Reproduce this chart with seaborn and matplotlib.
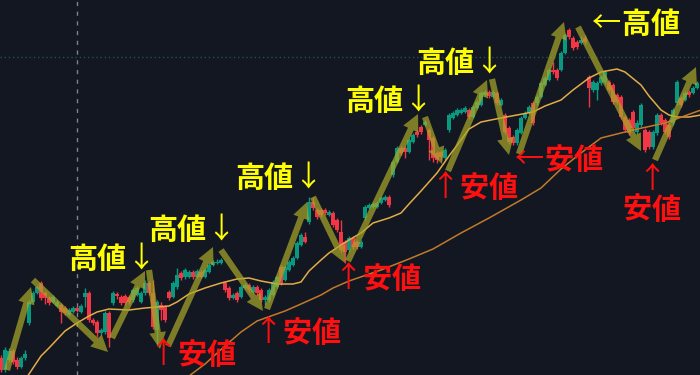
import numpy as np
import pandas as pd
import matplotlib
matplotlib.use("Agg")
import matplotlib.pyplot as plt
import seaborn as sns

# ---- candle data (price units) ----
opens = [17, 5, 15, 24, 15, 8, 17, 52, 73, 82,
         92, 82, 77, 73, 69, 70, 67, 60, 63, 67,
         63, 78, 82, 55, 53, 42, 43, 62, 72, 81,
         78, 79, 78, 75, 80, 73, 82, 92, 82, 45,
         70, 68, 83, 78, 88, 102, 98, 98, 103, 98,
         103, 98, 103, 110, 112, 112, 92, 87, 77, 82,
         78, 87, 90, 83, 88, 85, 75, 75, 80, 88,
         108, 95, 105, 110, 117, 130, 138, 153, 173, 165,
         165, 165, 160, 162, 155, 143, 133, 125, 137, 133,
         128, 157, 167, 168, 168, 172, 175, 178, 200, 213,
         227, 227, 223, 233, 243, 248, 250, 245, 237, 222,
         223, 217, 245, 257, 260, 262, 263, 265, 258, 267,
         270, 280, 283, 278, 282, 270, 260, 247, 238, 232,
         242, 257, 262, 272, 272, 278, 290, 295, 305, 305,
         305, 322, 345, 337, 333, 332, 337, 298, 285, 285,
         292, 293, 293, 290, 280, 278, 258, 255, 263, 243,
         250, 245, 243, 228, 242, 260, 255, 250, 252, 272,
         277, 275, 283, 282, 287]
closes = [5, 25, 24, 13, 8, 17, 21, 73, 82, 88,
          77, 77, 72, 78, 73, 63, 62, 65, 67, 64,
          69, 82, 55, 52, 42, 45, 62, 37, 82, 79,
          72, 72, 73, 85, 87, 82, 92, 82, 48, 73,
          65, 55, 77, 92, 100, 97, 105, 103, 98, 104,
          98, 105, 110, 113, 113, 115, 85, 77, 80, 75,
          88, 90, 85, 88, 82, 75, 78, 85, 93, 98,
          92, 108, 113, 117, 132, 140, 133, 173, 167, 158,
          160, 162, 163, 150, 145, 125, 123, 137, 128, 128,
          133, 168, 170, 171, 172, 177, 178, 170, 213, 227,
          222, 223, 235, 240, 240, 243, 253, 235, 217, 215,
          218, 225, 260, 262, 265, 265, 267, 258, 268, 273,
          282, 283, 279, 283, 272, 275, 243, 233, 232, 245,
          257, 262, 268, 252, 278, 292, 297, 305, 303, 297,
          322, 340, 338, 327, 328, 335, 333, 287, 293, 292,
          298, 303, 285, 273, 273, 258, 245, 242, 247, 252,
          270, 225, 228, 243, 260, 252, 243, 238, 265, 293,
          270, 282, 280, 287, 292]
highs = [20, 28, 27, 26, 18, 19, 25, 75, 84, 90,
         94, 84, 79, 80, 75, 72, 69, 67, 69, 69,
         71, 87, 84, 57, 55, 47, 64, 64, 84, 83,
         80, 81, 80, 87, 89, 84, 95, 94, 95, 75,
         73, 70, 85, 94, 107, 104, 107, 105, 105, 106,
         105, 107, 112, 115, 116, 117, 94, 89, 82, 84,
         90, 92, 92, 90, 90, 87, 80, 87, 95, 100,
         110, 110, 115, 119, 134, 142, 143, 178, 178, 167,
         167, 167, 165, 164, 157, 155, 135, 139, 139, 135,
         135, 170, 172, 173, 174, 179, 180, 180, 215, 229,
         229, 229, 237, 242, 245, 250, 255, 247, 239, 224,
         225, 227, 262, 264, 267, 267, 269, 267, 270, 275,
         284, 285, 285, 285, 284, 277, 262, 249, 240, 247,
         259, 264, 270, 274, 280, 294, 299, 307, 313, 307,
         324, 342, 347, 339, 335, 339, 340, 300, 295, 294,
         300, 305, 295, 292, 282, 280, 260, 257, 265, 255,
         272, 247, 245, 245, 262, 262, 257, 252, 267, 295,
         279, 284, 285, 289, 294]
lows = [3, 3, 13, 11, 6, 7, 15, 50, 72, 81,
        75, 71, 70, 72, 68, 52, 60, 59, 62, 63,
        62, 68, 53, 50, 38, 40, 41, 28, 70, 76,
        70, 70, 71, 73, 79, 72, 80, 80, 46, 30,
        55, 53, 75, 77, 86, 95, 96, 97, 96, 97,
        97, 97, 102, 109, 111, 111, 83, 75, 76, 73,
        77, 86, 83, 82, 80, 73, 70, 73, 79, 87,
        90, 94, 104, 109, 116, 129, 132, 151, 165, 156,
        158, 160, 159, 148, 143, 123, 112, 123, 126, 126,
        127, 155, 166, 167, 167, 171, 174, 168, 198, 212,
        220, 217, 222, 232, 238, 241, 249, 215, 213, 212,
        215, 215, 243, 256, 259, 261, 262, 256, 257, 266,
        269, 279, 277, 277, 270, 269, 241, 231, 230, 230,
        241, 256, 261, 250, 270, 277, 289, 294, 301, 295,
        304, 321, 336, 325, 326, 331, 331, 268, 283, 275,
        290, 291, 283, 271, 271, 256, 243, 240, 245, 241,
        248, 223, 226, 226, 240, 250, 241, 236, 250, 270,
        268, 274, 278, 281, 286]

# ---- moving averages ----
ma_short_idx = [6, 10, 12, 16, 19, 22, 24, 27, 32, 36, 39, 42, 44, 47, 51, 55, 59, 62, 65, 69,
                73, 75, 77, 80, 82, 85, 87, 90, 93, 97, 100, 102, 105, 109, 112, 115, 117, 120,
                125, 129, 133, 136, 140, 143, 147, 150, 154, 156, 160, 162, 165, 167, 169, 172, 175]
ma_short_val = [-5, 19, 27, 44, 52, 59, 63, 66, 65, 67, 68, 69, 73, 81, 87, 92, 96, 97, 94, 91,
                91, 93, 104, 115, 122, 130, 135, 142, 152, 157, 162, 171, 184, 202, 219, 235, 246, 253,
                257, 260, 263, 269, 275, 285, 297, 303, 306, 303, 290, 279, 265, 260, 258, 258, 260]
ma_long_idx = [46, 51, 56, 60, 64, 71, 75, 80, 83, 87, 95, 102, 108, 115, 122, 130, 135, 140,
               145, 150, 158, 166, 175]
ma_long_val = [-4, 11, 29, 43, 54, 64, 71, 80, 87, 94, 105, 116, 126, 142, 157, 175, 187, 206,
               222, 237, 245, 252, 265]

# ---- swing arrows (candle index, price) ----
arrow_from_x = [1.5, 8, 27.75, 37, 41.75, 55, 66.5, 78, 86.75, 106, 111.75, 122.75, 129.5, 144.25, 163.5]
arrow_from_y = [5, 95, 37, 105, 29, 125, 66, 178, 114, 258, 204, 296, 221, 348, 215]
arrow_to_x = [7.5, 26.75, 36, 39.75, 53, 65.5, 76.5, 86, 104.25, 110.25, 121.5, 127, 140.75, 160, 173.75]
arrow_to_y = [88, 23, 104, 26, 128, 64, 173, 112, 261, 211, 295, 220, 353, 224, 308]

# ---- labels ----
label_text = ["高値↓", "高値↓", "高値↓", "高値↓", "高値↓", "←高値",
              "↑安値", "↑安値", "↑安値", "↑安値", "←安値", "↑\n安値"]
label_x = [16.75, 36.75, 58.5, 86, 103.75, 147.75, 36.75, 63, 83, 107.25, 128.5, 162.75]
label_y = [116, 145, 197, 274, 312, 351, 20, 42, 96, 187, 215, 180]
label_kind = ["high"] * 6 + ["low"] * 6

ref_level = 318
ref_index = 19

BG = "#131722"
GREEN = "#089981"
RED = "#f23645"
FS = 21
ARROW_CHARS = "↓↑←"

sns.set_theme(style="dark")
plt.rcParams['font.family'] = ['Noto Sans CJK JP', 'DejaVu Sans']

fig = plt.figure(figsize=(7, 3.75), dpi=100)
fig.patch.set_facecolor(BG)
ax = fig.add_axes([0, 0, 1, 1])
ax.set_facecolor(BG)

df = pd.DataFrame(dict(i=np.arange(len(opens)), o=opens, c=closes, h=highs, l=lows))
colors = np.where(df.c >= df.o, GREEN, RED)
ax.vlines(df.i, df.l, df.h, colors=colors, linewidth=1, zorder=2)
ax.bar(df.i, (df.c - df.o).abs().clip(lower=0.8), bottom=np.minimum(df.o, df.c),
       width=0.8, color=colors, linewidth=0, zorder=3)

ax.axhline(ref_level, color="#1f4f52", linestyle=(0, (1, 2)), linewidth=1, zorder=1)
ax.axvline(ref_index, color="#7d8290", linestyle=(0, (3, 4)), linewidth=1, zorder=1)

sns.lineplot(x=ma_short_idx, y=ma_short_val, ax=ax, color="#e3ad45", linewidth=1.1,
             zorder=4, legend=False)
sns.lineplot(x=ma_long_idx, y=ma_long_val, ax=ax, color="#c27a2a", linewidth=1.1,
             zorder=4, legend=False)

for x0, y0, x1, y1 in zip(arrow_from_x, arrow_from_y, arrow_to_x, arrow_to_y):
    ax.annotate("", xy=(x1, y1), xytext=(x0, y0),
                arrowprops=dict(arrowstyle="simple,head_width=1.2,head_length=1.2,tail_width=0.45",
                                mutation_scale=10, fc="#a9a928", ec="none", alpha=0.7,
                                shrinkA=0, shrinkB=0),
                zorder=5)


def put_char(ch, x, y, dx, dy, col):
    ax.annotate(ch, xy=(x, y), xytext=(dx, dy), textcoords="offset points",
                color=col, fontsize=FS, ha="center", va="center",
                fontweight="normal" if ch in ARROW_CHARS else "bold", zorder=6)


for t, x, y, k in zip(label_text, label_x, label_y, label_kind):
    col = "#ffff00" if k == "high" else "#ff1010"
    lines = t.split("\n")
    if len(lines) == 1:
        for j, ch in enumerate(t):
            put_char(ch, x, y, (j + 0.5) * FS, 0, col)
    else:
        nl = len(lines)
        for r, line in enumerate(lines):
            dy = ((nl - 1) / 2 - r) * FS
            for j, ch in enumerate(line):
                put_char(ch, x, y, (j - (len(line) - 1) / 2) * FS, dy, col)

ax.set_xlim(-0.25, 174.75)
ax.set_ylim(0, 375)
ax.axis("off")
fig.savefig("out.png", dpi=100, facecolor=BG)
